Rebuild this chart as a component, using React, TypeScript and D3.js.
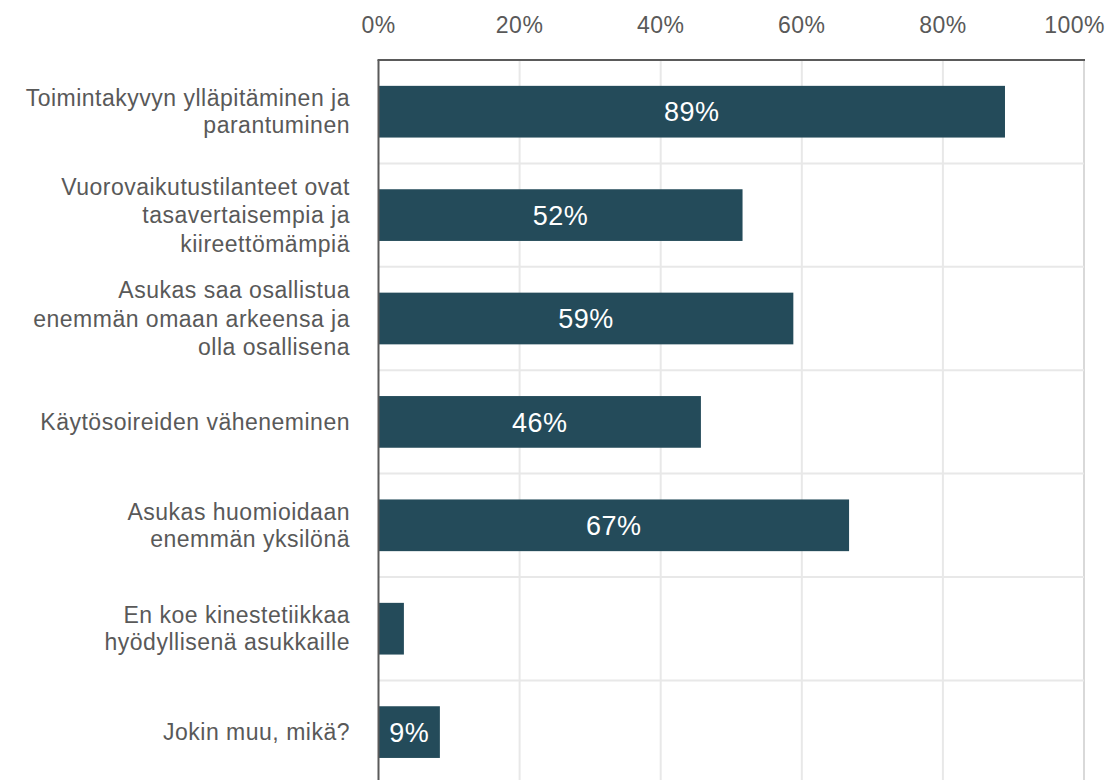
import React from "react";
import * as d3 from "d3";

const categories: string[][] = [
  ["Toimintakyvyn ylläpitäminen ja", "parantuminen"],
  ["Vuorovaikutustilanteet ovat", "tasavertaisempia ja", "kiireettömämpiä"],
  ["Asukas saa osallistua", "enemmän omaan arkeensa ja", "olla osallisena"],
  ["Käytösoireiden väheneminen"],
  ["Asukas huomioidaan", "enemmän yksilönä"],
  ["En koe kinestetiikkaa", "hyödyllisenä asukkaille"],
  ["Jokin muu, mikä?"],
];
const values: number[] = [88.8, 51.6, 58.8, 45.7, 66.7, 3.6, 8.7];
const xTicks: number[] = [0, 20, 40, 60, 80, 100];

const W = 1118;
const H = 780;
const left = 378.5;
const right = 1084;
const top = 60;
const bottom = 783.8;
const barColor = "#244b5a";
const textColor = "#595959";
const font = "Arial, 'Liberation Sans', sans-serif";

export default function App() {
  const keys = categories.map((_, i) => String(i));
  const x = d3.scaleLinear().domain([0, 100]).range([left, right]);
  const y = d3
    .scaleBand<string>()
    .domain(keys)
    .range([top, bottom])
    .paddingInner(0.5)
    .paddingOuter(0.25);
  const step = y.step();
  const fmt = (v: number) => `${Math.round(v)}%`;

  return (
    <svg
      width={W}
      height={H}
      style={{ position: "absolute", left: 0, top: 0, display: "block", background: "#fff" }}
      fontFamily={font}
    >
      {xTicks.slice(1).map((t) => (
        <line
          key={"vg" + t}
          x1={x(t)}
          x2={x(t)}
          y1={top}
          y2={bottom}
          stroke={t === 100 ? "#d9d9d9" : "#e8e8e8"}
          strokeWidth={2}
        />
      ))}
      {keys.slice(1).map((k, i) => {
        const yy = top + (i + 1) * step;
        return (
          <line key={"hg" + k} x1={left} x2={right} y1={yy} y2={yy} stroke="#e8e8e8" strokeWidth={2} />
        );
      })}
      {values.map((v, i) => (
        <rect
          key={"b" + i}
          x={x(0)}
          y={y(String(i))}
          width={x(v) - x(0)}
          height={y.bandwidth()}
          fill={barColor}
        />
      ))}
      {values.map((v, i) =>
        v >= 5 ? (
          <text
            key={"v" + i}
            x={(x(0) + x(v)) / 2}
            y={(y(String(i)) as number) + y.bandwidth() / 2}
            dy="0.36em"
            textAnchor="middle"
            fill="#ffffff"
            fontSize={27}
            letterSpacing={0.5}
          >
            {fmt(v)}
          </text>
        ) : null
      )}
      <line x1={left - 1} x2={right + 1} y1={top} y2={top} stroke="#5a5a5a" strokeWidth={2} />
      <line x1={left} x2={left} y1={top} y2={bottom} stroke="#5a5a5a" strokeWidth={2} />
      {xTicks.map((t) => {
        const cx = x(t);
        const isLast = t === xTicks[xTicks.length - 1];
        return (
          <text
            key={"t" + t}
            x={isLast ? W - 13 : cx}
            y={33}
            textAnchor={isLast ? "end" : "middle"}
            fill={textColor}
            fontSize={23}
            letterSpacing={0.5}
          >
            {`${t}%`}
          </text>
        );
      })}
      {categories.map((lines, i) => {
        const cy = top + (i + 0.5) * step;
        const lh = lines.length > 2 ? 28.5 : 27;
        return (
          <text key={"c" + i} textAnchor="end" fill={textColor} fontSize={23} letterSpacing={0.5}>
            {lines.map((ln, j) => (
              <tspan key={j} x={350} y={cy + (j - (lines.length - 1) / 2) * lh} dy="0.36em">
                {ln}
              </tspan>
            ))}
          </text>
        );
      })}
    </svg>
  );
}
